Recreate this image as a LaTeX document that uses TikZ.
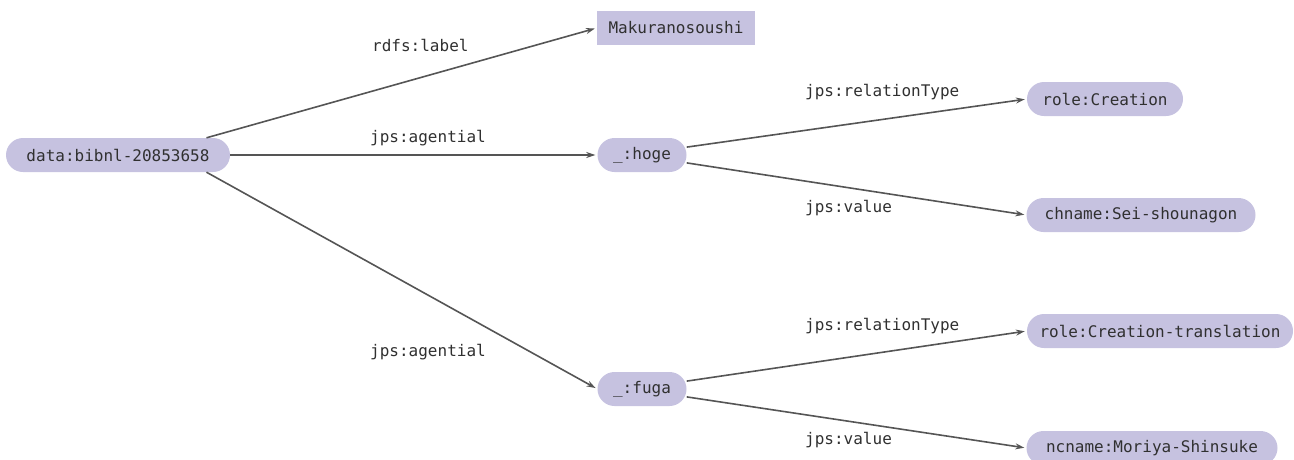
\documentclass[tikz,border=0pt]{standalone}
\usepackage{fontspec}
\setmonofont{DejaVu Sans Mono}
\usetikzlibrary{arrows.meta}
\definecolor{nodefill}{HTML}{C6C2E0}
\definecolor{nodetext}{HTML}{303030}
\definecolor{edgeline}{HTML}{555555}

\begin{document}
\begin{tikzpicture}[x=1pt,y=-1pt,
                    res/.style={fill=nodefill,text=nodetext,rounded corners=17pt,minimum height=34pt,inner xsep=10pt,font=\ttfamily\fontsize{16}{18}\selectfont},
                    lit/.style={res,sharp corners},
                    prop/.style={anchor=west,text=nodetext,inner sep=0pt,font=\ttfamily\fontsize{16}{18}\selectfont},
                    edge/.style={draw=edgeline,line width=1.6pt,shorten >=2pt,-{Stealth[length=9pt,width=6pt]}}]
                    \useasboundingbox (0,0) rectangle (1294,459);
                    % resources
                    \node[res,minimum width=224pt] (data) at (118,155) {data:bibnl-20853658};
                    \node[lit,minimum width=158pt] (title) at (676,28) {Makuranosoushi};
                    \node[res,minimum width=89pt] (hoge) at (642,155) {\_:hoge};
                    \node[res,minimum width=89pt] (fuga) at (642,389) {\_:fuga};
                    \node[res,minimum width=156pt] (role1) at (1105,99) {role:Creation};
                    \node[res,minimum width=229pt] (name1) at (1141,215) {chname:Sei-shounagon};
                    \node[res,minimum width=266pt] (role2) at (1160,331) {role:Creation-translation};
                    \node[res,minimum width=251pt] (name2) at (1152,448) {ncname:Moriya-Shinsuke};
                    % properties
                    \node[prop] (plabel) at (372,45) {rdfs:label};
                    \node[prop] (pagent1) at (370,138) {jps:agential};
                    \node[prop] (pagent2) at (370,352) {jps:agential};
                    \node[prop] (prel1) at (805,92) {jps:relationType};
                    \node[prop] (pval1) at (805,208) {jps:value};
                    \node[prop] (prel2) at (805,326) {jps:relationType};
                    \node[prop] (pval2) at (805,440) {jps:value};
                    \draw[edge] (data.11) -- (title.west);
                    \draw[edge] (data.east) -- (hoge.west);
                    \draw[edge] (data.-11) -- (fuga.west);
                    \draw[edge] (hoge.10) -- (role1.west);
                    \draw[edge] (hoge.-10) -- (name1.west);
                    \draw[edge] (fuga.10) -- (role2.west);
                    \draw[edge] (fuga.-10) -- (name2.west);
                \end{tikzpicture}
\end{document}
